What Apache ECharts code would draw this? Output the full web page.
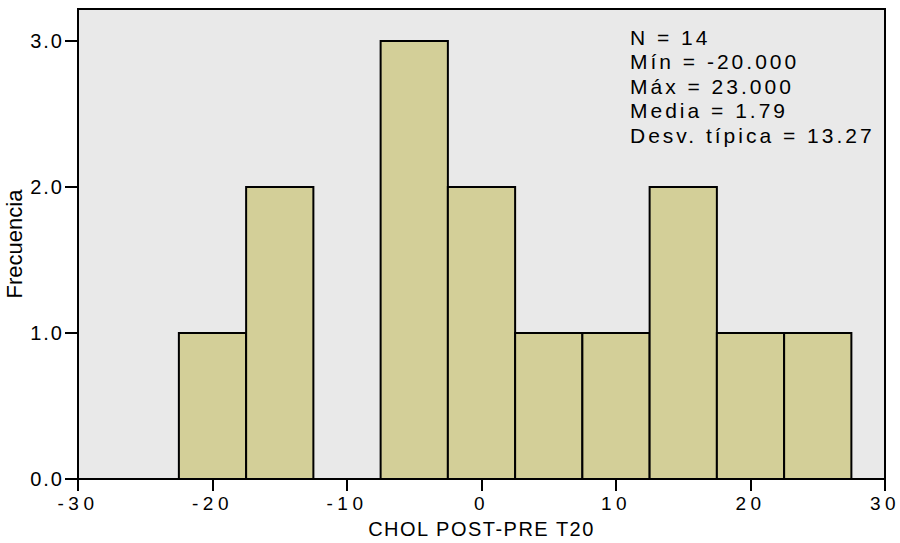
<!DOCTYPE html>
<html>
<head>
<meta charset="utf-8">
<script src="https://cdn.jsdelivr.net/npm/echarts@6/dist/echarts.min.js"></script>
<style>
  html, body { margin: 0; padding: 0; background: #fff; }
  #chart { width: 900px; height: 543px; }
  #chart text[style*="Helvetica"] { letter-spacing: 4.5px; }
  #chart text[style*="Arial"] { letter-spacing: 2px; }
  #chart text[style*="Arimo"] { letter-spacing: 3px; }
  #chart text[style*="sans-serif"] { letter-spacing: 1.5px; }
</style>
</head>
<body>
<div id="chart"></div>
<script>
// Histogram data (bin centres, bin width 5)
const binCenters = [-20, -15, -10, -5, 0, 5, 10, 15, 20, 25];
const binWidth = 5;
const counts = [1, 2, 0, 3, 2, 1, 1, 2, 1, 1];
const yTicks = [0, 1, 2, 3];
const xTicks = [-30, -20, -10, 0, 10, 20, 30];
const statsLines = ['N = 14', 'Mín = -20.000', 'Máx = 23.000', 'Media = 1.79', 'Desv. típica = 13.27'];
const xTitle = 'CHOL POST-PRE T20';
const yTitle = 'Frecuencia';

const chart = echarts.init(document.getElementById('chart'), null, { renderer: 'svg' });

const seriesData = binCenters.map((c, i) => [c - binWidth / 2, c + binWidth / 2, counts[i]]);

chart.setOption({
  animation: false,
  backgroundColor: '#ffffff',
  grid: {
    left: 78, right: 15, top: 9, bottom: 64,
    outerBoundsMode: 'none', containLabel: false,
    show: true, backgroundColor: '#e9e9e9', borderColor: '#000', borderWidth: 2
  },
  xAxis: {
    type: 'value', min: -30, max: 30, interval: 10,
    name: xTitle, nameLocation: 'middle', nameGap: 40,
    nameTextStyle: { fontFamily: 'Liberation Sans, sans-serif', fontSize: 20, color: '#000' },
    axisLine: { show: true, onZero: false, lineStyle: { color: '#000', width: 2 } },
    axisTick: { show: true, length: 12, lineStyle: { color: '#000', width: 2 }, customValues: xTicks },
    axisLabel: { margin: 15, fontFamily: 'Helvetica, Liberation Sans', fontSize: 19, color: '#000', customValues: xTicks },
    splitLine: { show: false }
  },
  yAxis: {
    type: 'value', min: 0, max: 3.22, interval: 1,
    name: yTitle, nameLocation: 'middle', nameGap: 51, nameRotate: 90,
    nameTextStyle: { fontFamily: 'Liberation Sans', fontSize: 22, color: '#000' },
    axisLine: { show: true, onZero: false, lineStyle: { color: '#000', width: 2 } },
    axisTick: { show: true, length: 13, lineStyle: { color: '#000', width: 2 }, customValues: yTicks },
    axisLabel: { margin: 14, fontFamily: 'Arial, Liberation Sans', fontSize: 20, color: '#000',
      customValues: yTicks, formatter: v => Number(v).toFixed(1) },
    splitLine: { show: false }
  },
  graphic: [{
    type: 'text', left: 630, top: 25, z: 100,
    style: {
      text: statsLines.join('\n'),
      font: '21px Arimo, Liberation Sans',
      lineHeight: 24.5,
      fill: '#000'
    }
  }],
  series: [{
    type: 'custom',
    data: seriesData,
    encode: { x: [0, 1], y: 2 },
    clip: true,
    renderItem: function (params, api) {
      const h = api.value(2);
      if (!h) return null;
      const p0 = api.coord([api.value(0), h]);
      const p1 = api.coord([api.value(1), 0]);
      return {
        type: 'rect',
        shape: { x: p0[0], y: p0[1], width: p1[0] - p0[0], height: p1[1] - p0[1] },
        style: { fill: '#d3cf98', stroke: '#000', lineWidth: 2 }
      };
    }
  }]
});
</script>
</body>
</html>
